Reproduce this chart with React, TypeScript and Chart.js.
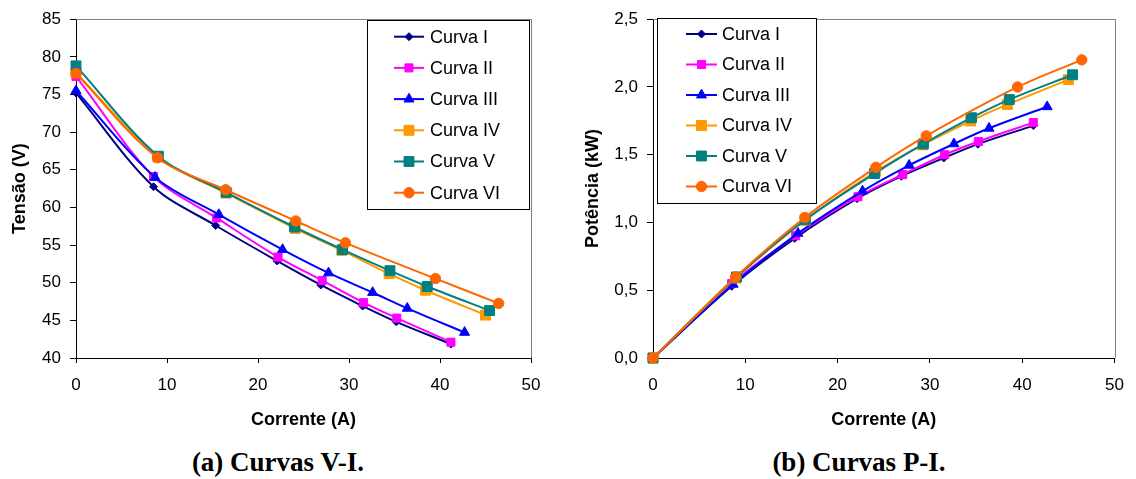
import React, { useEffect, useRef } from 'react';
import { Chart, registerables } from 'chart.js';

Chart.register(...registerables);

// ---------- data ----------
const seriesLabels = ['Curva I', 'Curva II', 'Curva III', 'Curva IV', 'Curva V', 'Curva VI'];

const currentI = [0, 8.52, 15.35, 22.1, 26.9, 31.5, 35.2, 41.2];
const voltageI = [75.2, 62.75, 57.6, 52.9, 49.7, 46.9, 44.8, 41.85];
const powerI = [0, 0.529, 0.883, 1.176, 1.341, 1.476, 1.578, 1.715];

const currentII = [0, 8.52, 15.46, 22.2, 27.05, 31.6, 35.25, 41.2];
const voltageII = [77.4, 64.1, 58.6, 53.4, 50.3, 47.35, 45.3, 42.1];
const powerII = [0, 0.549, 0.902, 1.19, 1.354, 1.5, 1.598, 1.737];

const currentIII = [0, 8.68, 15.7, 22.7, 27.75, 32.6, 36.4, 42.7];
const voltageIII = [75.5, 64.0, 59.05, 54.4, 51.3, 48.7, 46.6, 43.4];
const powerIII = [0, 0.544, 0.92, 1.232, 1.422, 1.58, 1.695, 1.854];

const currentIV = [0, 9.0, 16.5, 24.1, 29.2, 34.4, 38.4, 45.0];
const voltageIV = [77.9, 66.7, 61.9, 57.2, 54.3, 51.2, 49.0, 45.7];
const powerIV = [0, 0.59, 1.017, 1.375, 1.573, 1.749, 1.871, 2.054];

const currentV = [0, 9.05, 16.5, 24.0, 29.3, 34.5, 38.6, 45.45];
const voltageV = [78.8, 66.8, 62.0, 57.4, 54.4, 51.6, 49.5, 46.3];
const powerV = [0, 0.598, 1.02, 1.361, 1.58, 1.773, 1.907, 2.09];

const currentVI = [0, 8.95, 16.45, 24.15, 29.6, 39.5, 46.45];
const voltageVI = [77.8, 66.6, 62.35, 58.2, 55.3, 50.55, 47.25];
const powerVI = [0, 0.598, 1.037, 1.407, 1.639, 2.0, 2.2];

const currents = [currentI, currentII, currentIII, currentIV, currentV, currentVI];
const voltages = [voltageI, voltageII, voltageIII, voltageIV, voltageV, voltageVI];
const powers = [powerI, powerII, powerIII, powerIV, powerV, powerVI];

const currentAxis = { min: 0, max: 50, step: 10 };
const voltageAxis = { min: 40, max: 85, step: 5 };
const powerAxis = { min: 0, max: 2.5, step: 0.5 };

const xTitle = 'Corrente (A)';
const vTitle = 'Tensão (V)';
const pTitle = 'Potência (kW)';
const captionA = '(a) Curvas V-I.';
const captionB = '(b) Curvas P-I.';

// ---------- styles ----------
const seriesColors = ['#000080', '#FF00FF', '#0000FF', '#FF9900', '#008080', '#FF6600'];
const markerStyles = ['rectRot', 'rect', 'triangle', 'rect', 'rect', 'circle'];
const markerRadii = [4, 5.7, 5.8, 7, 7, 5.2];

const SANS = "'Liberation Sans', Arial, Helvetica, sans-serif";
const SERIF = "'Liberation Serif', 'Times New Roman', serif";

function drawMarker(ctx: CanvasRenderingContext2D, style: string, x: number, y: number, r: number, color: string) {
  ctx.save();
  ctx.fillStyle = color;
  ctx.strokeStyle = color;
  ctx.lineWidth = 1;
  ctx.beginPath();
  if (style === 'circle') {
    ctx.arc(x, y, r, 0, Math.PI * 2);
  } else if (style === 'rect') {
    const s = Math.SQRT1_2 * r;
    ctx.rect(x - s, y - s, 2 * s, 2 * s);
  } else if (style === 'rectRot') {
    ctx.moveTo(x - r, y);
    ctx.lineTo(x, y - r);
    ctx.lineTo(x + r, y);
    ctx.lineTo(x, y + r);
    ctx.closePath();
  } else if (style === 'triangle') {
    ctx.moveTo(x, y - r);
    ctx.lineTo(x + 0.866 * r, y + 0.5 * r);
    ctx.lineTo(x - 0.866 * r, y + 0.5 * r);
    ctx.closePath();
  }
  ctx.fill();
  ctx.stroke();
  ctx.restore();
}

const framePlugin = {
  id: 'grayFrame',
  beforeDatasetsDraw(chart: any) {
    const { ctx, chartArea } = chart;
    const { left, right, top } = chartArea;
    ctx.save();
    ctx.strokeStyle = '#808080';
    ctx.lineWidth = 1;
    ctx.beginPath();
    ctx.moveTo(left, Math.round(top) + 0.5);
    ctx.lineTo(Math.round(right) + 0.5, Math.round(top) + 0.5);
    ctx.lineTo(Math.round(right) + 0.5, chartArea.bottom);
    ctx.stroke();
    ctx.restore();
  },
};

const legendPlugin = {
  id: 'boxLegend',
  afterDraw(chart: any, _args: any, opts: any) {
    const { ctx } = chart;
    ctx.save();
    ctx.fillStyle = '#ffffff';
    ctx.fillRect(opts.x, opts.y, opts.w, opts.h);
    ctx.strokeStyle = '#000000';
    ctx.lineWidth = 1;
    ctx.strokeRect(Math.round(opts.x) + 0.5, Math.round(opts.y) + 0.5, Math.round(opts.w), Math.round(opts.h));
    chart.data.datasets.forEach((ds: any, i: number) => {
      const cy = opts.y + opts.firstRow + i * opts.rowH;
      ctx.strokeStyle = ds.borderColor;
      ctx.lineWidth = 2;
      ctx.beginPath();
      ctx.moveTo(opts.x + opts.lineStart, cy);
      ctx.lineTo(opts.x + opts.lineEnd, cy);
      ctx.stroke();
      drawMarker(ctx, ds.pointStyle, opts.x + (opts.lineStart + opts.lineEnd) / 2, cy, ds.pointRadius, ds.borderColor);
      ctx.fillStyle = '#000000';
      ctx.font = `18px ${SANS}`;
      ctx.textAlign = 'left';
      ctx.textBaseline = 'middle';
      ctx.fillText(ds.label, opts.x + opts.textX, cy + 1);
    });
    ctx.restore();
  },
};

type Layout = {
  yAxisW: number;
  padRight: number;
  xAxisH: number;
  yTitlePad: number;
  legend: any;
};

function buildConfig(yValues: number[][], yAxis: any, yTitle: string, yFmt: (v: number) => string, lay: Layout): any {
  return {
    type: 'line',
    data: {
      datasets: seriesLabels.map((label, i) => ({
        label,
        data: currents[i].map((c, j) => ({ x: c, y: yValues[i][j] })),
        borderColor: seriesColors[i],
        backgroundColor: seriesColors[i],
        pointBackgroundColor: seriesColors[i],
        pointBorderColor: seriesColors[i],
        borderWidth: 2,
        tension: 0.33,
        pointStyle: markerStyles[i],
        pointRadius: markerRadii[i],
        pointBorderWidth: 1,
        fill: false,
        clip: false,
        order: seriesLabels.length - i,
      })),
    },
    options: {
      animation: false,
      responsive: false,
      maintainAspectRatio: false,
      events: [],
      layout: { padding: { top: 17, right: lay.padRight, bottom: 0, left: 0 } },
      plugins: {
        legend: { display: false },
        tooltip: { enabled: false },
        boxLegend: lay.legend,
      },
      scales: {
        x: {
          type: 'linear',
          min: currentAxis.min,
          max: currentAxis.max,
          ticks: { stepSize: currentAxis.step, padding: 12, color: '#000', font: { family: SANS, size: 17 } },
          grid: { drawOnChartArea: false, drawTicks: true, tickLength: 5, color: '#000' },
          border: { color: '#000', width: 1 },
          title: {
            display: true,
            text: xTitle,
            color: '#000',
            font: { family: SANS, size: 18, weight: 'bold' },
            padding: { top: 0, bottom: 5 },
          },
          afterFit: (s: any) => {
            s.height = lay.xAxisH;
          },
        },
        y: {
          type: 'linear',
          min: yAxis.min,
          max: yAxis.max,
          ticks: {
            stepSize: yAxis.step,
            padding: 9,
            color: '#000',
            font: { family: SANS, size: 17 },
            callback: (v: any) => yFmt(Number(v)),
          },
          grid: { drawOnChartArea: false, drawTicks: true, tickLength: 6, color: '#000' },
          border: { color: '#000', width: 1 },
          title: {
            display: true,
            text: yTitle,
            color: '#000',
            font: { family: SANS, size: 18, weight: 'bold' },
            padding: { top: lay.yTitlePad, bottom: 0 },
          },
          afterFit: (s: any) => {
            s.width = lay.yAxisW;
          },
        },
      },
    },
    plugins: [framePlugin, legendPlugin],
  };
}

const CANVAS_W = 568;
const CANVAS_H = 436;

function ChartCanvas({ make, left }: { make: () => any; left: number }) {
  const ref = useRef<HTMLCanvasElement>(null);
  useEffect(() => {
    if (!ref.current) return;
    const chart = new Chart(ref.current, make());
    return () => chart.destroy();
  }, []);
  return (
    <canvas
      ref={ref}
      width={CANVAS_W}
      height={CANVAS_H}
      style={{ position: 'absolute', left, top: 0, width: CANVAS_W, height: CANVAS_H }}
    />
  );
}

const makeVI = () =>
  buildConfig(voltages, voltageAxis, vTitle, (v) => String(v), {
    yAxisW: 76,
    padRight: 37,
    xAxisH: 78,
    yTitlePad: 9,
    legend: { x: 367, y: 20, w: 162, h: 189, firstRow: 16.7, rowH: 31.2, lineStart: 27, lineEnd: 57, textX: 63 },
  });

const makePI = () =>
  buildConfig(powers, powerAxis, pTitle, (v) => v.toFixed(1).replace('.', ','), {
    yAxisW: 85,
    padRight: 14,
    xAxisH: 78,
    yTitlePad: 14,
    legend: { x: 89, y: 18, w: 159, h: 185, firstRow: 16, rowH: 30.5, lineStart: 29, lineEnd: 60, textX: 65 },
  });

const captionStyle: React.CSSProperties = {
  position: 'absolute',
  top: 449,
  fontFamily: SERIF,
  fontWeight: 'bold',
  fontSize: 27,
  lineHeight: '27px',
  textAlign: 'center',
  color: '#000',
  whiteSpace: 'nowrap',
};

export default function App() {
  return (
    <div
      style={{
        position: 'absolute',
        left: 0,
        top: 0,
        width: 1136,
        height: 479,
        background: '#fff',
        overflow: 'hidden',
      }}
    >
      <ChartCanvas make={makeVI} left={0} />
      <ChartCanvas make={makePI} left={568} />
      <div style={{ ...captionStyle, left: 28, width: 500 }}>{captionA}</div>
      <div style={{ ...captionStyle, left: 609, width: 500 }}>{captionB}</div>
    </div>
  );
}
